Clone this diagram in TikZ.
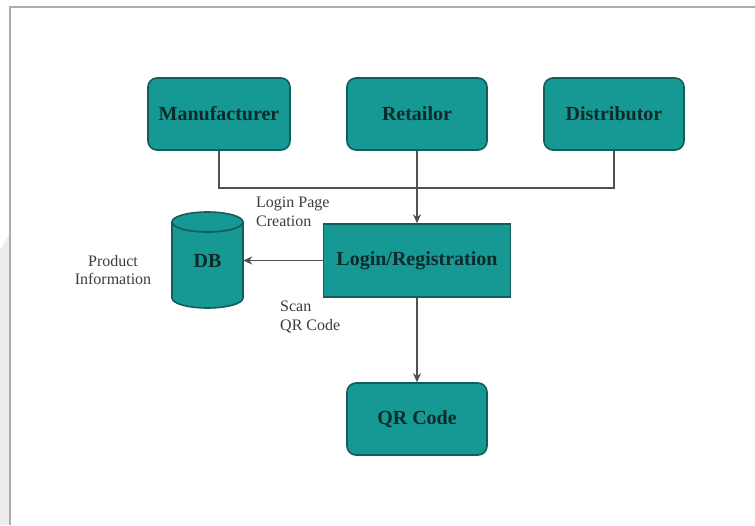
\documentclass[tikz,border=0pt]{standalone}
\usepackage{fontspec}
\setmainfont{Liberation Serif}
\usetikzlibrary{arrows.meta}
\definecolor{tealfill}{RGB}{22,152,148}
\definecolor{tealedge}{RGB}{18,92,90}
\definecolor{boxtext}{RGB}{12,42,42}
\definecolor{linecol}{RGB}{80,80,80}
\definecolor{labelcol}{RGB}{60,60,60}
\tikzset{
  rbox/.style={draw=tealedge, line width=1.6pt, fill=tealfill, rounded corners=9pt,
    minimum width=140pt, minimum height=72pt, inner sep=0pt,
    font=\fontsize{20}{22}\selectfont\bfseries, text=boxtext},
  sbox/.style={draw=tealedge, line width=1.6pt, fill=tealfill,
    minimum width=187pt, minimum height=73pt, inner sep=0pt,
    font=\fontsize{20}{22}\selectfont\bfseries, text=boxtext},
  conn/.style={draw=linecol, line width=1.2pt},
  arr/.style={conn, -{Stealth[length=9pt,width=8pt]}},
  lbl/.style={font=\fontsize{16}{18.5}\selectfont, text=labelcol, inner sep=0pt}
}
\begin{document}
\begin{tikzpicture}[x=1pt,y=-1pt]
\useasboundingbox (0,0) rectangle (755,525);
\fill[white] (0,0) rectangle (755,525);
% watermark strip
\fill[gray!14] (0,250) -- (9,235) -- (9,525) -- (0,525) -- cycle;
% frame
\draw[gray!65, line width=1.6pt] (10,525) -- (10,7) -- (755,7);

\node[rbox, minimum width=142pt] (man) at (219,114) {Manufacturer};
\node[rbox] (ret) at (417,114) {Retailor};
\node[rbox] (dis) at (614,114) {Distributor};
\node[sbox] (login) at (417,260.5) {Login/Registration};
\node[rbox] (qr) at (417,419) {QR Code};

% DB cylinder
\fill[tealfill, draw=tealedge, line width=1.6pt] (172,222) -- (172,298)
  arc[start angle=180, end angle=0, x radius=35.5, y radius=10] -- (243,222);
\fill[tealfill, draw=tealedge, line width=1.6pt] (207.5,222) ellipse[x radius=35.5, y radius=10];
\node[minimum width=71pt, minimum height=96pt, inner sep=0pt,
  font=\fontsize{20}{22}\selectfont\bfseries, text=boxtext] (db) at (207.5,260.5) {\raisebox{-8pt}{DB}};

% connectors
\coordinate (jm) at (man.south |- 0,188);
\coordinate (jd) at (dis.south |- 0,188);
\draw[conn] (man.south) -- (jm) -- (jd) -- (dis.south);
\draw[arr] (ret.south) -- (login.north);
\draw[arr] (login.west) -- (db.east);
\draw[arr] (login.south) -- (qr.north);

% labels
\node[lbl, align=left, anchor=north west] (l1) at (256,197) {Login Page\\Creation};
\node[lbl, align=center] (l2) at (113,270) {Product\\Information};
\node[lbl, align=left, anchor=north west] (l3) at (280,301) {Scan\\QR Code};
\end{tikzpicture}
\end{document}
